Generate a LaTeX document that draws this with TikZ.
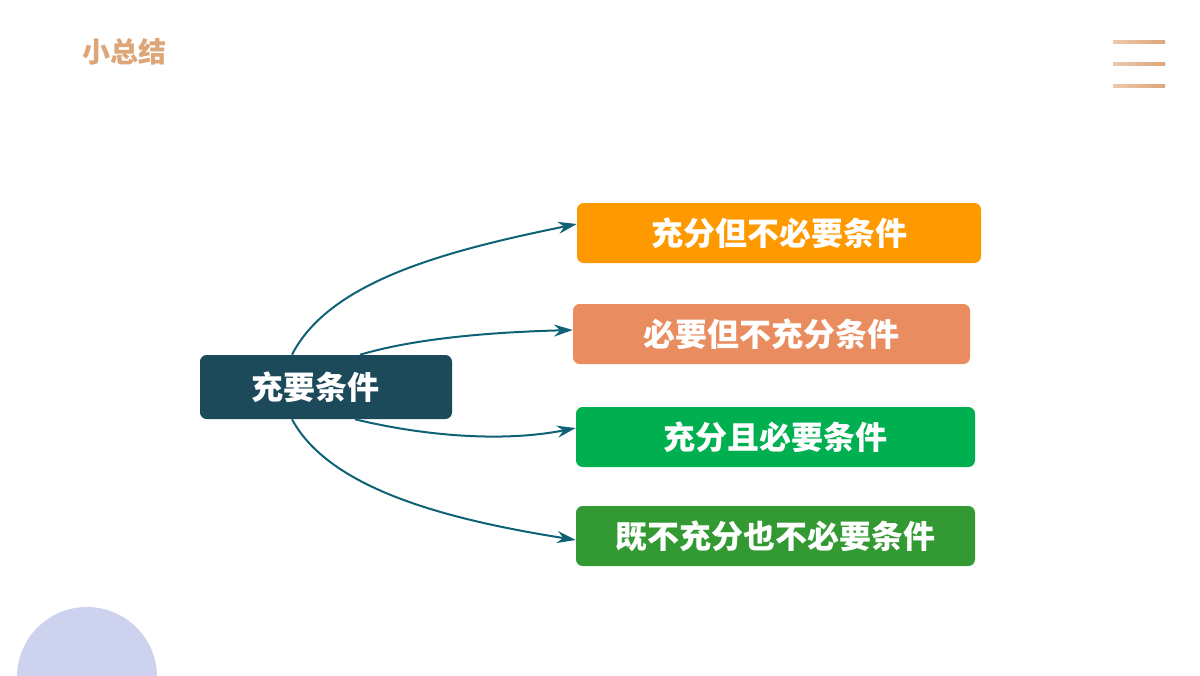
\documentclass[tikz,border=0pt]{standalone}
\usepackage{fontspec}
\setmainfont{Noto Sans CJK SC}
\usetikzlibrary{arrows.meta}
\definecolor{dk}{HTML}{1D4A5A}
\definecolor{arr}{HTML}{0F6276}
\definecolor{c1}{HTML}{FF9900}
\definecolor{c2}{HTML}{E98D60}
\definecolor{c3}{HTML}{00B050}
\definecolor{c4}{HTML}{339933}
\definecolor{tan}{HTML}{DDA679}
\begin{document}
\begin{tikzpicture}[x=0.75pt,y=-0.75pt,
  box/.style={rounded corners=5pt,draw=none,text=white,font=\bfseries\fontsize{24}{26}\selectfont,inner sep=0pt},
  con/.style={draw=arr,line width=1.5pt,-{Stealth[length=14pt,width=9pt]}}]
\useasboundingbox (0,0) rectangle (1200,675);
\fill[white] (0,0) rectangle (1200,675);
\begin{scope}
\clip (0,0) rectangle (1200,675);
\fill[color={rgb,255:red,205;green,211;blue,238}] (87,677) circle (70);
\end{scope}
\node[text=tan,font=\bfseries\fontsize{21}{23}\selectfont] (title) at (124,52) {小总结};
\foreach \yy in {42,64,86}{\shade[left color=tan!60, right color=tan] (1113,\yy-1.5) rectangle (1165,\yy+1.5);}
\node[box,fill=dk,minimum width=252*0.75pt,minimum height=64*0.75pt] (m) at (326,387) {\hspace*{-16pt}充要条件};
\node[box,fill=c1,minimum width=404*0.75pt,minimum height=60*0.75pt] (a) at (779,233) {充分但不必要条件};
\node[box,fill=c2,minimum width=397*0.75pt,minimum height=60*0.75pt] (b) at (771.5,334) {必要但不充分条件};
\node[box,fill=c3,minimum width=399*0.75pt,minimum height=60*0.75pt] (c) at (775.5,437) {充分且必要条件};
\node[box,fill=c4,minimum width=399*0.75pt,minimum height=60*0.75pt] (d) at (775.5,536) {既不充分也不必要条件};
\draw[con] ([xshift=-34*0.75pt]m.north) .. controls (330,280) and (450,250) .. ([yshift=9*0.75pt]a.west);
\draw[con] ([xshift=34*0.75pt]m.north) .. controls (420,337) and (500,332) .. ([yshift=4*0.75pt]b.west);
\draw[con] ([xshift=29*0.75pt]m.south) .. controls (420,435) and (500,443) .. ([yshift=9*0.75pt]c.west);
\draw[con] ([xshift=-34*0.75pt]m.south) .. controls (330,490) and (450,520) .. ([yshift=-4*0.75pt]d.west);
\end{tikzpicture}
\end{document}
